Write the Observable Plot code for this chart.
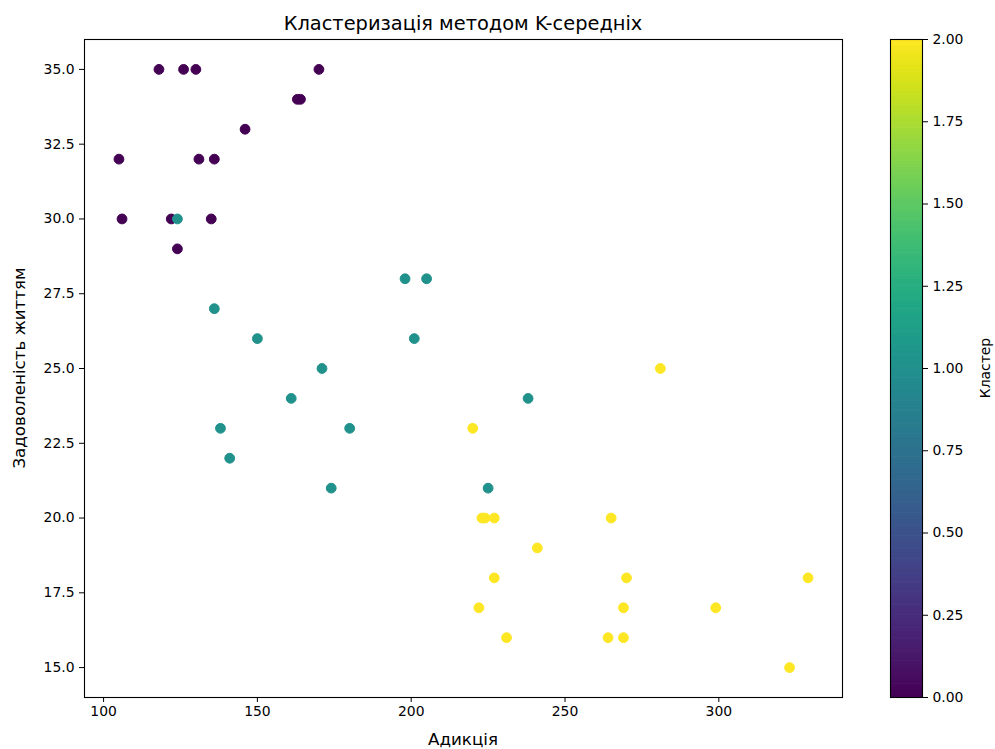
<!DOCTYPE html>
<html>
<head>
<meta charset="utf-8">
<script src="https://cdn.jsdelivr.net/npm/d3@7"></script>
<script src="https://cdn.jsdelivr.net/npm/@observablehq/plot@0.6"></script>
<style>
  html, body { margin: 0; padding: 0; background: white; }
  #wrap { position: relative; width: 995px; height: 749px; font-family: "DejaVu Sans", sans-serif; color: black; overflow: hidden; }
  #main { position: absolute; left: 0; top: 0; }
  #cbar { position: absolute; left: 860px; top: 0; }
  .lbl { position: absolute; white-space: nowrap; line-height: 1; color: black; }
  #title { left: 84px; width: 758px; top: 14px; text-align: center; font-size: 19.4px; }
  #xlabel { left: 84px; width: 758px; top: 731px; text-align: center; font-size: 16.7px; }
  .rot { transform: translate(-50%, -50%) rotate(-90deg); }
  #ylabel { left: 19px; top: 368px; font-size: 16.7px; }
  #clabel { left: 986px; top: 368px; font-size: 13.9px; }
</style>
</head>
<body>
<div id="wrap">
  <div id="main"></div>
  <div id="cbar"></div>
  <div class="lbl" id="title">Кластеризація методом K-середніх</div>
  <div class="lbl" id="xlabel">Адикція</div>
  <div class="lbl rot" id="ylabel">Задоволеність життям</div>
  <div class="lbl rot" id="clabel">Кластер</div>
</div>
<script>
// Cluster 0 (purple)
const addiction0    = [118, 126, 130, 170, 163, 164, 146, 105, 131, 136, 106, 122, 135, 124];
const satisfaction0 = [ 35,  35,  35,  35,  34,  34,  33,  32,  32,  32,  30,  30,  30,  29];
// Cluster 1 (teal)
const addiction1    = [124, 136, 150, 171, 161, 138, 180, 141, 174, 198, 205, 201, 238, 225];
const satisfaction1 = [ 30,  27,  26,  25,  24,  23,  23,  22,  21,  28,  28,  26,  24,  21];
// Cluster 2 (yellow)
const addiction2    = [281, 220, 223, 224, 227, 265, 241, 227, 270, 329, 222, 269, 299, 231, 264, 269, 323];
const satisfaction2 = [ 25,  23,  20,  20,  20,  20,  19,  18,  18,  18,  17,  17,  17,  16,  16,  16,  15];

const xTicks = [100, 150, 200, 250, 300];
const yTicks = [15, 17.5, 20, 22.5, 25, 27.5, 30, 32.5, 35];
const cbTicks = [0, 0.25, 0.5, 0.75, 1, 1.25, 1.5, 1.75, 2];

const data = [];
[[addiction0, satisfaction0, 0], [addiction1, satisfaction1, 1], [addiction2, satisfaction2, 2]]
  .forEach(([xs, ys, c]) => xs.forEach((v, i) => data.push({x: v, y: ys[i], c})));

const colorScale = {type: "linear", scheme: "viridis", domain: [0, 2]};
const fontStyle = {fontFamily: "DejaVu Sans", fontSize: "13.9px", color: "black", background: "white"};

const main = Plot.plot({
  width: 850, height: 749,
  marginLeft: 84, marginRight: 8, marginTop: 39, marginBottom: 52,
  style: fontStyle,
  x: {domain: [93.8, 340.2], label: null},
  y: {domain: [14, 36], label: null},
  color: colorScale,
  marks: [
    Plot.axisX({ticks: xTicks, tickFormat: d => String(d), tickSize: 5, tickPadding: 4, label: null}),
    Plot.axisY({ticks: yTicks, tickFormat: ".1f", tickSize: 5, tickPadding: 5, label: null}),
    Plot.dot(data, {x: "x", y: "y", fill: "c", stroke: "c", strokeWidth: 1, r: 4.9}),
    Plot.frame({stroke: "black", strokeWidth: 1.1})
  ]
});
document.getElementById("main").appendChild(main);

const step = 0.01;
const stops = d3.range(0, 2, step);
const cbar = Plot.plot({
  width: 135, height: 749,
  marginLeft: 30, marginRight: 73, marginTop: 39, marginBottom: 52,
  style: fontStyle,
  x: {domain: [0, 1], axis: null},
  y: {domain: [0, 2], label: null},
  color: colorScale,
  marks: [
    Plot.rect(stops, {x1: 0, x2: 1, y1: d => d, y2: d => Math.min(2, d + step * 1.2), fill: d => d + step / 2}),
    Plot.axisY({anchor: "right", ticks: cbTicks, tickFormat: ".2f", tickSize: 5, tickPadding: 5, label: null}),
    Plot.frame({stroke: "black", strokeWidth: 1.1})
  ]
});
document.getElementById("cbar").appendChild(cbar);
</script>
</body>
</html>
